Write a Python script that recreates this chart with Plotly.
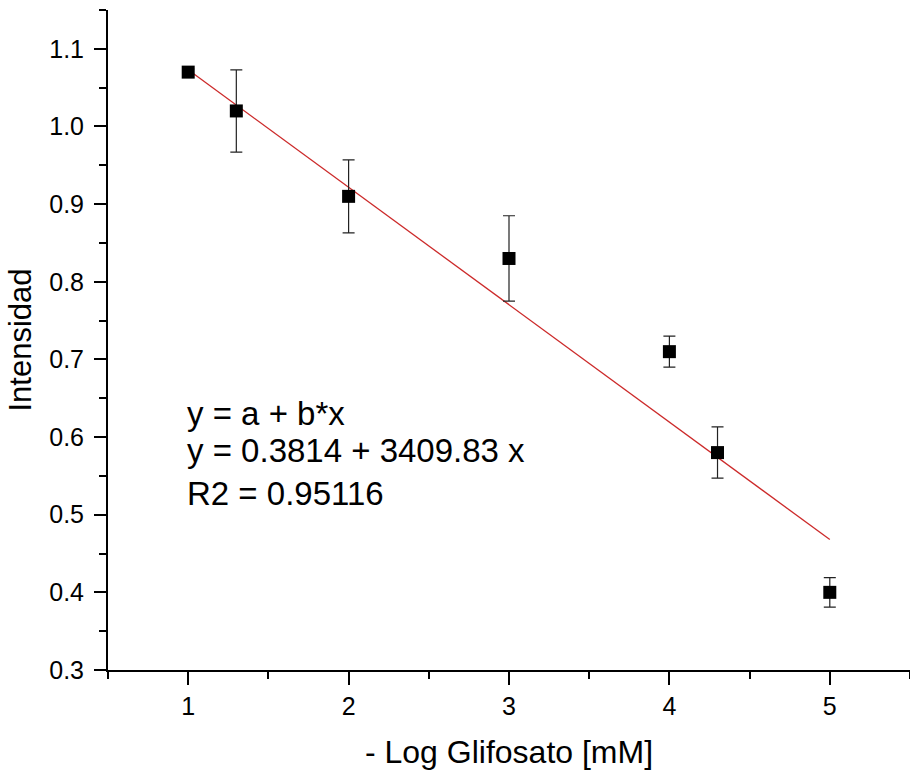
import plotly.graph_objects as go

# Data
x_vals = [1.0, 1.3, 2.0, 3.0, 4.0, 4.3, 5.0]
y_vals = [1.07, 1.02, 0.91, 0.83, 0.71, 0.58, 0.40]
y_err = [0.004, 0.053, 0.047, 0.055, 0.020, 0.033, 0.019]

fit_x = [1.0, 5.0]
fit_y = [1.073, 0.468]

eq_lines = ["y = a + b*x", "y = 0.3814 + 3409.83 x", "R2 = 0.95116"]
eq_y = [0.630, 0.583, 0.527]

FONT = "Liberation Sans, Arial, sans-serif"

fig = go.Figure()

fig.add_trace(go.Scatter(
    x=fit_x, y=fit_y, mode="lines",
    line=dict(color="#cc2a2a", width=1.3),
    showlegend=False, hoverinfo="skip",
))

fig.add_trace(go.Scatter(
    x=x_vals, y=y_vals, mode="markers",
    marker=dict(symbol="square", size=13, color="black"),
    error_y=dict(type="data", array=y_err, visible=True,
                 color="#222222", thickness=1.2, width=6),
    showlegend=False,
))

for txt, yy in zip(eq_lines, eq_y):
    fig.add_annotation(
        x=0.978, y=yy, xref="x", yref="y", text=txt, showarrow=False,
        xanchor="left", yanchor="middle",
        font=dict(family=FONT, size=33, color="black"),
    )

fig.update_layout(
    width=910, height=772,
    margin=dict(l=108, r=0, t=10, b=102),
    plot_bgcolor="white", paper_bgcolor="white",
    font=dict(family=FONT, color="black"),
    showlegend=False,
)

fig.update_xaxes(
    range=[0.5, 5.5], dtick=1, tick0=0,
    showline=True, linecolor="black", linewidth=2,
    ticks="outside", ticklen=13, tickwidth=2, tickcolor="black",
    minor=dict(dtick=0.5, ticks="outside", ticklen=7, tickwidth=2, tickcolor="black"),
    showgrid=False, zeroline=False,
    tickfont=dict(family=FONT, size=25, color="black"),
    ticklabelstandoff=0,
    title=dict(text="- Log Glifosato [mM]", font=dict(family=FONT, size=32, color="black"), standoff=22),
)

fig.update_yaxes(
    range=[0.3, 1.15], dtick=0.1, tick0=0, tickformat=".1f",
    showline=True, linecolor="black", linewidth=2,
    ticks="outside", ticklen=12, tickwidth=2, tickcolor="black",
    minor=dict(dtick=0.05, ticks="outside", ticklen=7, tickwidth=2, tickcolor="black"),
    showgrid=False, zeroline=False,
    tickfont=dict(family=FONT, size=25, color="black"),
    ticklabelstandoff=5,
    title=dict(text="Intensidad", font=dict(family=FONT, size=31, color="black"), standoff=8),
)

fig.write_html("out.html")
